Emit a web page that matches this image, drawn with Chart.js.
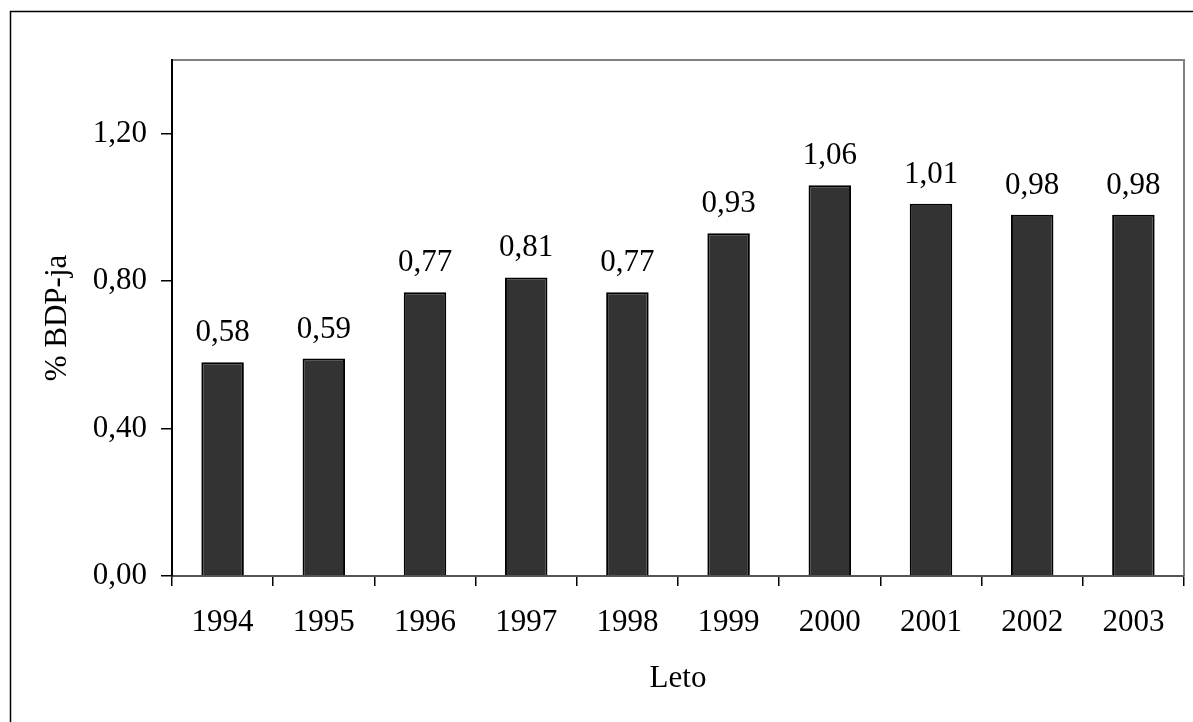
<!DOCTYPE html>
<html>
<head>
<meta charset="utf-8">
<script src="https://cdn.jsdelivr.net/npm/chart.js@4/dist/chart.umd.min.js"></script>
<style>
  html, body { margin: 0; padding: 0; background: #fff; }
  #wrap { width: 1193px; height: 722px; }
</style>
</head>
<body>
<div id="wrap"><canvas id="chart" width="1193" height="722"></canvas></div>
<script>
const years = ['1994', '1995', '1996', '1997', '1998', '1999', '2000', '2001', '2002', '2003'];
const shares = [0.58, 0.59, 0.77, 0.81, 0.77, 0.93, 1.06, 1.01, 0.98, 0.98];
const yTicks = [0, 0.4, 0.8, 1.2];

const FONT = "'Liberation Serif', 'Times New Roman', serif";
const fmt = v => v.toFixed(2).replace('.', ',');

// frame around the whole picture plus the grey plot border on top/right
const framePlugin = {
    id: 'frame',
    beforeDraw(chart) {
        const ctx = chart.ctx;
        const a = chart.chartArea;
        ctx.save();
        ctx.strokeStyle = '#000';
        ctx.lineWidth = 1.5;
        ctx.beginPath();
        ctx.moveTo(10.5, 722);
        ctx.lineTo(10.5, 11.5);
        ctx.lineTo(1193, 11.5);
        ctx.stroke();
        ctx.strokeStyle = '#808080';
        ctx.lineWidth = 2;
        ctx.beginPath();
        ctx.moveTo(a.left, a.top);
        ctx.lineTo(a.right, a.top);
        ctx.lineTo(a.right, a.bottom);
        ctx.stroke();
        ctx.restore();
    }
};

// value labels above the bars
const barLabels = {
    id: 'barLabels',
    afterDatasetsDraw(chart) {
        const ctx = chart.ctx;
        const meta = chart.getDatasetMeta(0);
        ctx.save();
        ctx.font = '31px ' + FONT;
        ctx.fillStyle = '#000';
        ctx.textAlign = 'center';
        ctx.textBaseline = 'alphabetic';
        meta.data.forEach((bar, i) => {
            ctx.fillText(fmt(shares[i]), bar.x, bar.y - 21);
        });
        ctx.restore();
    }
};

const ctx = document.getElementById('chart').getContext('2d');
new Chart(ctx, {
    type: 'bar',
    data: {
        labels: years,
        datasets: [{
            data: shares,
            backgroundColor: '#333333',
            borderColor: '#000',
            borderWidth: 2,
            barPercentage: 0.42,
            categoryPercentage: 1
        }]
    },
    options: {
        responsive: false,
        animation: false,
        layout: { padding: { top: 60, right: 9, left: 0, bottom: 0 } },
        plugins: {
            legend: { display: false },
            tooltip: { enabled: false }
        },
        scales: {
            x: {
                afterFit(scale) { scale.height = 146; },
                grid: { drawOnChartArea: false, tickLength: 10, color: '#000', lineWidth: 1.5 },
                border: { color: '#555', width: 2 },
                ticks: { color: '#000', padding: 18, font: { family: FONT, size: 31 } },
                title: {
                    display: true, text: 'Leto', color: '#000',
                    font: { family: FONT, size: 31 },
                    padding: { top: 0, bottom: 25 }
                }
            },
            y: {
                min: 0,
                max: 1.4,
                afterFit(scale) { scale.width = 172; },
                afterBuildTicks(scale) {
                    scale.ticks = yTicks.map(v => ({ value: v }));
                },
                grid: { drawOnChartArea: false, tickLength: 11, color: '#000', lineWidth: 1.5 },
                border: { color: '#000', width: 2 },
                ticks: {
                    color: '#000', padding: 14,
                    font: { family: FONT, size: 31 },
                    callback: v => fmt(v)
                },
                title: {
                    display: true, text: '% BDP-ja', color: '#000',
                    font: { family: FONT, size: 31 },
                    padding: { top: 39, bottom: 0 }
                }
            }
        }
    },
    plugins: [framePlugin, barLabels]
});
</script>
</body>
</html>
